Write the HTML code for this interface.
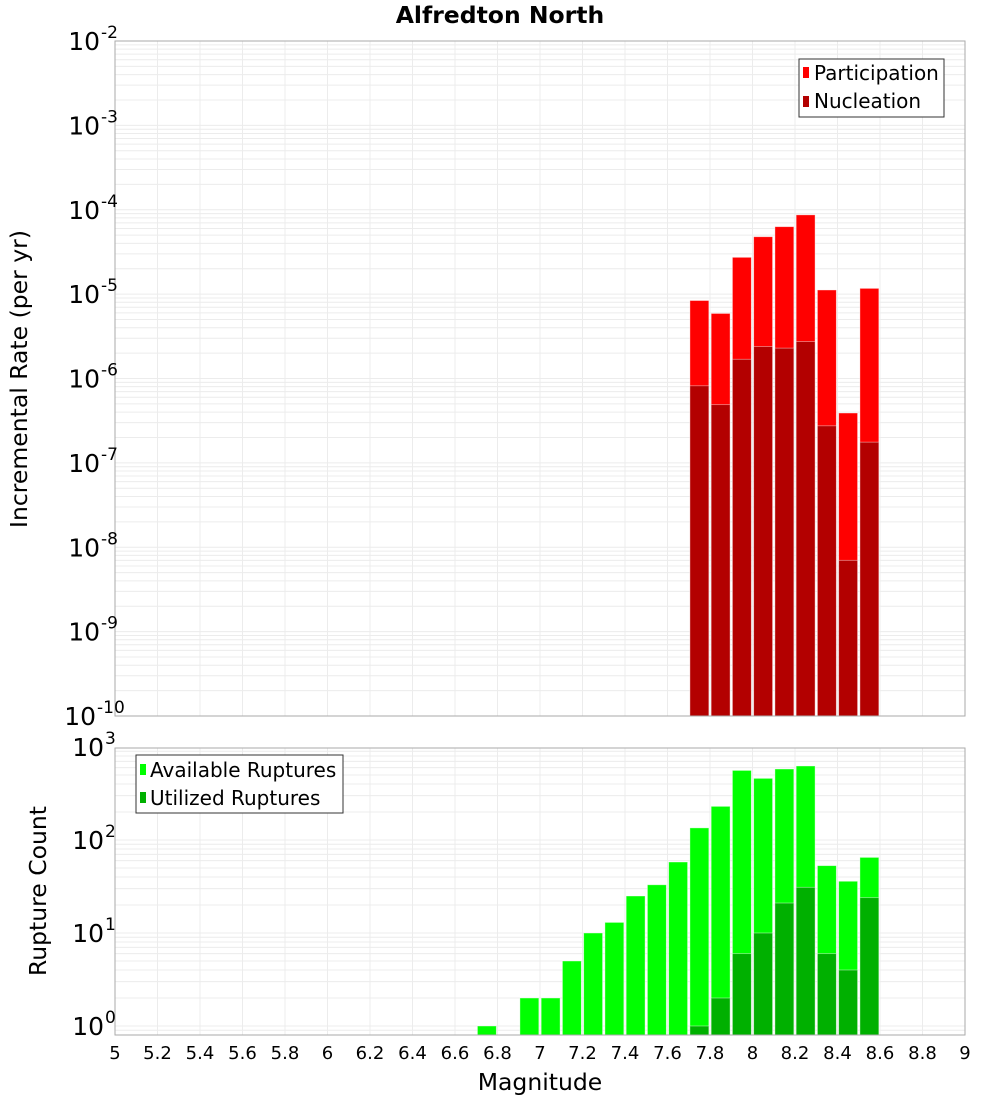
<!DOCTYPE html>
<html><head><meta charset="utf-8"><style>
html,body{margin:0;padding:0;background:#fff;}
svg{display:block;font-family:"DejaVu Sans","Liberation Sans",sans-serif;}
</style></head><body>
<svg id="chart" width="1000" height="1100" viewBox="0 0 1000 1100" xmlns="http://www.w3.org/2000/svg">
<text x="500" y="23" text-anchor="middle" font-size="23.5" font-weight="bold">Alfredton North</text>
<g id="topG"></g>
<g id="botG"></g>
<rect x="115" y="41" width="850" height="675" fill="none" stroke="#aaa"/>
<rect x="115" y="748" width="850" height="287" fill="none" stroke="#aaa"/>
<text transform="translate(27,379) rotate(-90)" text-anchor="middle" font-size="23.5">Incremental Rate (per yr)</text>
<text transform="translate(46,891) rotate(-90)" text-anchor="middle" font-size="23.5">Rupture Count</text>
<text x="540" y="1090" text-anchor="middle" font-size="23.5">Magnitude</text>
<g>
<rect x="799" y="59" width="145" height="58" fill="#fff" stroke="#333"/>
<rect x="803" y="67" width="6" height="11" fill="#ff0000"/>
<text x="814" y="80" font-size="20">Participation</text>
<rect x="803" y="96" width="6" height="11" fill="#b30000"/>
<text x="814" y="108" font-size="20">Nucleation</text>
</g>
<g>
<rect x="136" y="755" width="207" height="58" fill="#fff" stroke="#333"/>
<rect x="140" y="764" width="6" height="11" fill="#00ff00"/>
<text x="150" y="777" font-size="20">Available Ruptures</text>
<rect x="140" y="792" width="6" height="11" fill="#00b000"/>
<text x="150" y="805" font-size="20">Utilized Ruptures</text>
</g>
</svg>
<script>
const mags = [6.75,6.85,6.95,7.05,7.15,7.25,7.35,7.45,7.55,7.65,7.75,7.85,7.95,8.05,8.15,8.25,8.35,8.45,8.55];
const participation = [0,0,0,0,0,0,0,0,0,0,8.4e-6,5.9e-6,2.73e-5,4.79e-5,6.3e-5,8.7e-5,1.12e-5,3.9e-7,1.17e-5];
const nucleation = [0,0,0,0,0,0,0,0,0,0,8.2e-7,4.9e-7,1.69e-6,2.39e-6,2.29e-6,2.74e-6,2.75e-7,7.0e-9,1.76e-7];
const available = [1,0,2,2,5,10,13,25,33,58,135,230,560,460,580,625,53,36,65];
const utilized = [0,0,0,0,0,0,0,0,0,0,1,2,6,10,21,31,6,4,24];
const xTicks = [5,5.2,5.4,5.6,5.8,6,6.2,6.4,6.6,6.8,7,7.2,7.4,7.6,7.8,8,8.2,8.4,8.6,8.8,9];
const topExps = [-2,-3,-4,-5,-6,-7,-8,-9,-10];
const botExps = [0,1,2,3];

const NS = "http://www.w3.org/2000/svg";
const X0 = 115, X1 = 965;
function xs(m){ return X0 + (m - 5) / 4 * (X1 - X0); }
function yTop(v){ return 41 + (-2 - Math.log10(v)) / 8 * 675; }
function yBot(v){ return 1026 - Math.log10(v) * 93; }
function mk(tag, attrs, parent){
  const e = document.createElementNS(NS, tag);
  for (const k in attrs) e.setAttribute(k, attrs[k]);
  parent.appendChild(e);
  return e;
}
const topGroup = document.getElementById('topG');
const botGroup = document.getElementById('botG');
const svgEl = document.getElementById('chart');

function grid(parent, yfn, ylo, yhi, e0, e1){
  for (let e = e0; e <= e1; e++) {
    for (let k = 1; k <= 9; k++) {
      const y = yfn(k * Math.pow(10, e));
      if (y < ylo - 0.5 || y > yhi + 0.5) continue;
      const l = mk('line', {x1: X0, x2: X1, y1: y, y2: y, stroke: '#ececec', 'stroke-width': 1}, parent);
      
      
    }
  }
  xTicks.forEach(t => {
    const l = mk('line', {x1: xs(t), x2: xs(t), y1: ylo, y2: yhi, stroke: '#ececec', 'stroke-width': 1}, parent);
    
    
  });
}
grid(topGroup, yTop, 41, 716, -10, -3);
grid(botGroup, yBot, 748, 1035, -1, 2);

const bw = 0.089 * 212.5;
function bars(parent, vals, yfn, base, color, name){
  vals.forEach((v, i) => {
    if (!(v > 0)) return;
    const y = yfn(v);
    const r = mk('rect', {x: xs(mags[i]) - bw / 2, y: y, width: bw, height: base - y, fill: color, stroke: 'rgba(255,255,255,0.5)', 'stroke-width': 0.8}, parent);
    
    
  });
}
bars(topGroup, participation, yTop, 716, '#ff0000', 'participation');
bars(topGroup, nucleation, yTop, 716, '#b30000', 'nucleation');
bars(botGroup, available, yBot, 1035, '#00ff00', 'available');
bars(botGroup, utilized, yBot, 1035, '#00b000', 'utilized');

function ylabel(e, y, name){
  const off = (String(e).length - 1) * 4;
  const t = mk('text', {x: 104 - off, y: y + 9, 'text-anchor': 'end', 'font-size': 25}, svgEl);
  
  
  t.textContent = '10';
  const s = mk('text', {x: 105 - off, y: y - 3, 'text-anchor': 'start', 'font-size': 17}, svgEl);
  
  
  s.textContent = String(e);
}
topExps.forEach(e => ylabel(e, yTop(Math.pow(10, e)), 'top-y-tick-label'));
botExps.forEach(e => ylabel(e, yBot(Math.pow(10, e)), 'bottom-y-tick-label'));

xTicks.forEach(t => {
  const tx = mk('text', {x: xs(t), y: 1059, 'text-anchor': 'middle', 'font-size': 18}, svgEl);
  
  
  tx.textContent = String(t);
});
</script>
</body></html>
